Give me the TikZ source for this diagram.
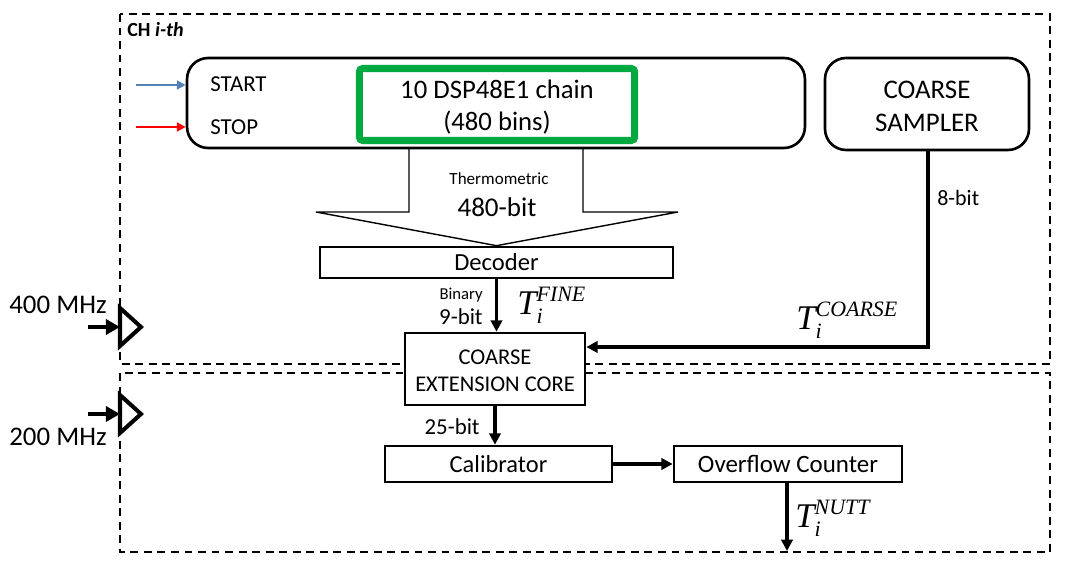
\documentclass[tikz,border=0pt]{standalone}
\usepackage[no-math]{fontspec}
\setmainfont{Carlito}
\newfontfamily\tserif{Liberation Serif}
\usetikzlibrary{arrows.meta}
\definecolor{dspgreen}{RGB}{0,170,64}
\definecolor{startblue}{RGB}{84,130,180}
\newcommand\lowline[2]{\raisebox{-#1}[0pt][0pt]{#2}}
\newcommand\tstamp[1]{\tserif\itshape T$^{\hbox{\fontsize{12.5}{13}\selectfont #1}}_{\hbox{\fontsize{12.5}{13}\selectfont i}}$}

\begin{document}
\begin{tikzpicture}[x=0.02cm,y=-0.02cm,
  block/.style={draw,fill=white,line width=1.5pt,inner sep=0pt,align=center},
  rblock/.style={block,rounded corners=12pt},
  sig/.style={line width=1.8pt,-{Triangle[length=6.5pt,width=6.5pt]}},
  clk/.style={line width=2.3pt,-{Triangle[length=8pt,width=8.5pt]}},
  frame/.style={line width=1.2pt,dash pattern=on 4.5pt off 3.2pt},
  lbl/.style={inner sep=0pt},
  tlbl/.style={inner sep=0pt,anchor=west,font=\fontsize{19.7}{20}\selectfont}]
  \useasboundingbox (0,0) rectangle (1083,570);

  % channel frames
  \draw[frame] (120,14) rectangle (1050,364);
  \draw[frame] (120,373) rectangle (1050,552);
  \node[lbl,anchor=west,font=\bfseries\fontsize{11.4}{13}\selectfont] (ch) at (127,30) {CH \textit{i-th}};

  % blocks
  \node[rblock,minimum width=12.36cm,minimum height=1.8cm] (tdc) at (496,103) {};
  \node[block,draw=dspgreen,line width=4pt,rounded corners=2pt,minimum width=5.51cm,minimum height=1.44cm,
        font=\fontsize{15.2}{18}\selectfont] (dsp) at (497,104.5) {\lowline{5.7pt}{10 DSP48E1 chain}\\\lowline{5.7pt}{(480 bins)}};
  \node[rblock,minimum width=4.08cm,minimum height=1.84cm,font=\fontsize{15.3}{18.7}\selectfont] (sampler) at (927,104) {\lowline{6.3pt}{COARSE}\\\lowline{6.3pt}{SAMPLER}};
  \node[block,minimum width=7.06cm,minimum height=0.62cm,font=\fontsize{14}{15}\selectfont] (decoder) at (496.5,262.5) {Decoder};
  \node[block,minimum width=3.6cm,minimum height=1.44cm,font=\fontsize{12.8}{15.3}\selectfont] (core) at (495,369) {\lowline{5pt}{COARSE}\\\lowline{5pt}{EXTENSION CORE}};
  \node[block,minimum width=4.54cm,minimum height=0.72cm,font=\fontsize{13.9}{15}\selectfont] (calib) at (498.5,464) {Calibrator};
  \node[block,minimum width=4.56cm,minimum height=0.72cm,font=\fontsize{14.2}{15}\selectfont] (overflow) at (788,464) {Overflow Counter};

  % start / stop inputs
  \node[lbl,anchor=west,font=\fontsize{13}{15}\selectfont] (start) at (210,84) {START};
  \node[lbl,anchor=west,font=\fontsize{13}{15}\selectfont] (stop) at (210,127) {STOP};
  \coordinate (startin) at (136,85);
  \coordinate (stopin) at (136,127);
  \draw[line width=1.3pt,startblue,-{Triangle[length=5pt,width=5pt]}] (startin) -- (startin -| tdc.west);
  \draw[line width=1.3pt,red,-{Triangle[length=5pt,width=5pt]}] (stopin) -- (stopin -| tdc.west);

  % thermometric bus
  \draw[line width=0.8pt] (409,148) |- (316,212) -- (decoder.north) -- (678,212) -| (583,148);
  \node[lbl,font=\fontsize{9.7}{11}\selectfont] (thermo) at (499,179) {Thermometric};
  \node[lbl,font=\fontsize{15.4}{17}\selectfont] (bus) at (497,207) {480-bit};

  % decoder to core
  \draw[sig] (decoder.south) -- (decoder.south |- core.north);
  \node[lbl,anchor=east,font=\fontsize{9.5}{11}\selectfont] (binary) at (483,295) {Binary};
  \node[lbl,anchor=east,font=\fontsize{13}{15}\selectfont] (nine) at (483,317) {9-bit};
  \node[tlbl] (tfine) at (517,305) {\tstamp{FINE}};

  % coarse sampler to core
  \coordinate (ccorner) at (928,347);
  \draw[sig] (sampler.south -| ccorner) -- (ccorner) -- (ccorner -| core.east);
  \node[lbl,anchor=west,font=\fontsize{12.5}{14}\selectfont] (eight) at (937,198) {8-bit};
  \node[tlbl] (tcoarse) at (796,320) {\tstamp{COARSE}};

  % core to calibrator to overflow
  \draw[sig] (core.south) -- (core.south |- calib.north);
  \node[lbl,anchor=east,font=\fontsize{13}{15}\selectfont] (twentyfive) at (480,427) {25-bit};
  \draw[sig] (calib.east) -- (overflow.west);
  \coordinate (nuttout) at (787,551);
  \draw[sig] (overflow.south -| nuttout) -- (nuttout);
  \node[tlbl] (tnutt) at (795,518) {\tstamp{NUTT}};

  % clocks
  \coordinate (clkfast) at (120,327);
  \coordinate (clkslow) at (120,414);
  \draw[line width=2.3pt,line join=miter] (120,308) -- (141,327) -- (120,346) -- cycle;
  \draw[line width=2.3pt,line join=miter] (120,395) -- (141,414) -- (120,433) -- cycle;
  \draw[clk] (88,327) -- (clkfast);
  \draw[clk] (88,414) -- (clkslow);
  \node[lbl,anchor=west,font=\fontsize{15.3}{17}\selectfont] (fast) at (9,305) {400 MHz};
  \node[lbl,anchor=west,font=\fontsize{15.3}{17}\selectfont] (slow) at (9,437) {200 MHz};
\end{tikzpicture}
\end{document}
